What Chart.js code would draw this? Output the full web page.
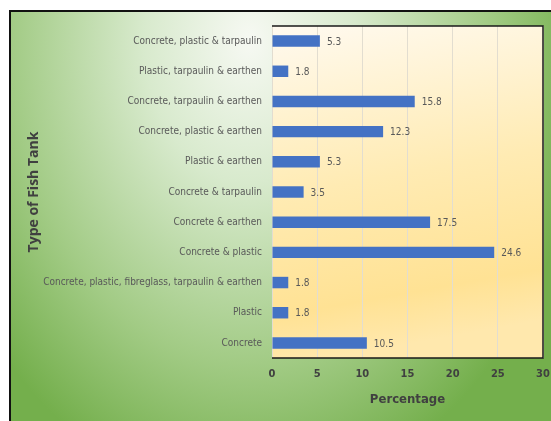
<!DOCTYPE html>
<html>
<head>
<meta charset="utf-8">
<script src="https://cdn.jsdelivr.net/npm/chart.js@4.4.0/dist/chart.umd.min.js"></script>
<style>
  html, body { margin: 0; padding: 0; background: #fff; }
  #wrap { position: relative; width: 551px; height: 421px; }
</style>
</head>
<body>
<div id="wrap"><canvas id="tankChart" width="551" height="421"></canvas></div>
<script>
// Data (top to bottom as shown)
const tankTypes = [
    'Concrete, plastic & tarpaulin',
    'Plastic, tarpaulin & earthen',
    'Concrete, tarpaulin & earthen',
    'Concrete, plastic & earthen',
    'Plastic & earthen',
    'Concrete & tarpaulin',
    'Concrete & earthen',
    'Concrete & plastic',
    'Concrete, plastic, fibreglass, tarpaulin & earthen',
    'Plastic',
    'Concrete'
];
const percentages = [5.3, 1.8, 15.8, 12.3, 5.3, 3.5, 17.5, 24.6, 1.8, 1.8, 10.5];
const xTicks = [0, 5, 10, 15, 20, 25, 30];

const narrow = "'Liberation Sans Narrow', 'DejaVu Sans Condensed', sans-serif";

// Background: green frame + cream/yellow plot area
const backgroundPlugin = {
    id: 'backgroundPlugin',
    beforeDraw(chart) {
        const ctx = chart.ctx;
        const w = chart.width, h = chart.height;
        ctx.save();
        ctx.fillStyle = '#ffffff';
        ctx.fillRect(0, 0, w, h);

        // elliptical radial gradient, light near the top middle
        ctx.save();
        ctx.beginPath();
        ctx.rect(10, 11, w - 10, h - 11);
        ctx.clip();
        ctx.translate(250, 40);
        ctx.scale(1, 1.35);
        const g = ctx.createRadialGradient(0, 0, 5, 0, 0, 340);
        g.addColorStop(0, '#f5f8f1');
        g.addColorStop(0.3, '#d8eacd');
        g.addColorStop(0.7, '#a2cb85');
        g.addColorStop(1, '#74af4c');
        ctx.fillStyle = g;
        ctx.fillRect(-300, -60, 700, 600);
        ctx.restore();

        // frame lines
        ctx.strokeStyle = '#111';
        ctx.lineWidth = 2;
        ctx.beginPath();
        ctx.moveTo(10, h);
        ctx.lineTo(10, 11);
        ctx.lineTo(w, 11);
        ctx.stroke();

        // plot area
        const a = chart.chartArea;
        const pg = ctx.createLinearGradient(a.left, a.top, a.left + 60, a.bottom);
        pg.addColorStop(0, '#fffaf0');
        pg.addColorStop(0.5, '#ffebb3');
        pg.addColorStop(0.85, '#ffe294');
        pg.addColorStop(1, '#ffe8ad');
        ctx.fillStyle = pg;
        ctx.fillRect(a.left, a.top, a.right - a.left, a.bottom - a.top);
        ctx.restore();
    },
    beforeDatasetsDraw(chart) {
        const ctx = chart.ctx;
        const a = chart.chartArea;
        ctx.save();
        ctx.strokeStyle = '#1a1a1a';
        ctx.lineWidth = 1.5;
        ctx.beginPath();
        ctx.moveTo(a.left, a.top);
        ctx.lineTo(a.right, a.top);
        ctx.lineTo(a.right, a.bottom);
        ctx.lineTo(a.left, a.bottom);
        ctx.stroke();
        ctx.restore();
    }
};

// Value labels to the right of each bar
const valueLabels = {
    id: 'valueLabels',
    afterDatasetsDraw(chart) {
        const ctx = chart.ctx;
        const meta = chart.getDatasetMeta(0);
        ctx.save();
        ctx.font = "10px " + narrow;
        ctx.fillStyle = '#595959';
        ctx.textAlign = 'left';
        ctx.textBaseline = 'middle';
        meta.data.forEach((bar, i) => {
            ctx.fillText(percentages[i].toFixed(1), bar.x + 7, bar.y + 1);
        });
        ctx.restore();
    }
};

const ctx = document.getElementById('tankChart').getContext('2d');
new Chart(ctx, {
    type: 'bar',
    data: {
        labels: tankTypes,
        datasets: [{
            data: percentages,
            backgroundColor: '#4472c4',
            borderWidth: 0,
            categoryPercentage: 1,
            barPercentage: 0.38
        }]
    },
    options: {
        indexAxis: 'y',
        responsive: false,
        animation: false,
        layout: { padding: { left: 0, top: 26, right: 8, bottom: 0 } },
        plugins: {
            legend: { display: false },
            tooltip: { enabled: false }
        },
        scales: {
            x: {
                min: 0,
                max: 30,
                afterBuildTicks: scale => { scale.ticks = xTicks.map(v => ({ value: v })); },
                afterFit: scale => {
                    scale.height = 63;
                    scale.paddingLeft = 0;
                    scale.paddingRight = 0;
                },
                grid: { color: '#e2ddd0', drawTicks: false },
                border: { display: false },
                ticks: {
                    padding: 10,
                    color: '#404040',
                    font: { family: narrow, size: 11, weight: 'bold' }
                },
                title: {
                    display: true,
                    text: 'Percentage',
                    color: '#404040',
                    padding: { bottom: 14 },
                    font: { family: narrow, size: 13, weight: 'bold' }
                }
            },
            y: {
                afterFit: scale => { scale.width = 272; },
                grid: { display: false, drawTicks: false },
                border: { display: false },
                ticks: {
                    padding: 10,
                    color: '#595959',
                    font: { family: narrow, size: 10 }
                },
                title: {
                    display: true,
                    text: 'Type of Fish Tank',
                    color: '#404040',
                    padding: { top: 26 },
                    font: { family: "'Open Sans', sans-serif", size: 14, weight: 'bold' }
                }
            }
        }
    },
    plugins: [backgroundPlugin, valueLabels]
});
</script>
</body>
</html>
